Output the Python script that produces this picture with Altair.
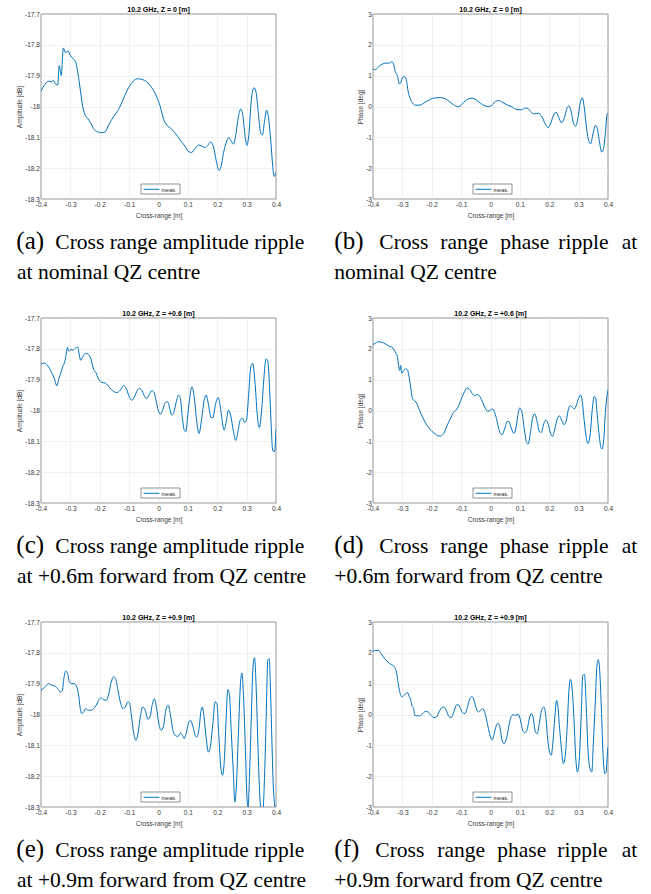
import altair as alt
import pandas as pd

# ---------------- data ----------------
xa = [-0.400, -0.374, -0.365, -0.358, -0.350, -0.343, -0.338, -0.331, -0.324, -0.317, -0.308, -0.300,
      -0.291, -0.283, -0.274, -0.266, -0.258, -0.251, -0.241, -0.230, -0.218, -0.204, -0.193, -0.181,
      -0.170, -0.153, -0.136, -0.119, -0.102, -0.085, -0.071, -0.057, -0.040, -0.023, -0.006, 0.006,
      0.017, 0.028, 0.042, 0.057, 0.074, 0.091, 0.102, 0.113, 0.125, 0.138, 0.151, 0.159, 0.167, 0.178,
      0.187, 0.196, 0.206, 0.213, 0.221, 0.230, 0.239, 0.247, 0.255, 0.264, 0.272, 0.280, 0.287, 0.295,
      0.301, 0.308, 0.316, 0.325, 0.332, 0.340, 0.348, 0.354, 0.360, 0.368, 0.374, 0.382, 0.389, 0.393, 0.400]
ya = [-17.950, -17.918, -17.920, -17.915, -17.928, -17.930, -17.867, -17.900, -17.810, -17.825, -17.820, -17.834,
      -17.845, -17.853, -17.894, -17.947, -18.000, -18.025, -18.039, -18.055, -18.076, -18.083, -18.085, -18.082,
      -18.060, -18.033, -18.010, -17.974, -17.939, -17.917, -17.910, -17.912, -17.920, -17.939, -17.969, -18.000,
      -18.040, -18.060, -18.071, -18.087, -18.109, -18.130, -18.146, -18.149, -18.135, -18.125, -18.130, -18.133, -18.127, -18.115,
      -18.130, -18.173, -18.207, -18.195, -18.152, -18.119, -18.101, -18.111, -18.122, -18.087, -18.033, -18.008, -18.030, -18.097,
      -18.126, -18.087, -17.979, -17.939, -17.953, -18.023, -18.087, -18.092, -18.055, -18.012, -18.033, -18.109, -18.195, -18.227, -18.214]

xb = [-0.400, -0.392, -0.381, -0.367, -0.356, -0.347, -0.335, -0.330, -0.324, -0.317, -0.310, -0.305, -0.299,
      -0.292, -0.286, -0.281, -0.273, -0.265, -0.254, -0.239, -0.222, -0.205, -0.188, -0.171, -0.154, -0.137,
      -0.125, -0.112, -0.103, -0.091, -0.077, -0.063, -0.049, -0.035, -0.019, -0.006, 0.005, 0.017, 0.028,
      0.042, 0.057, 0.074, 0.090, 0.105, 0.119, 0.127, 0.136, 0.147, 0.164, 0.176, 0.187, 0.196, 0.205, 0.214,
      0.223, 0.232, 0.242, 0.252, 0.261, 0.267, 0.275, 0.283, 0.290, 0.298, 0.306, 0.313, 0.319, 0.328, 0.334,
      0.341, 0.349, 0.357, 0.364, 0.371, 0.379, 0.384, 0.391, 0.397, 0.400]
yb = [1.22, 1.19, 1.29, 1.38, 1.41, 1.40, 1.45, 1.38, 1.13, 1.00, 0.73, 0.79, 0.95,
      0.97, 0.84, 0.52, 0.25, 0.11, 0.04, 0.05, 0.14, 0.23, 0.28, 0.29, 0.25, 0.14,
      0.05, 0.00, 0.02, 0.14, 0.24, 0.27, 0.22, 0.11, 0.02, 0.00, 0.04, 0.17, 0.19,
      0.13, 0.05, -0.02, -0.10, -0.11, -0.05, -0.06, -0.16, -0.24, -0.22, -0.35, -0.58, -0.69, -0.54, -0.29,
      -0.18, -0.35, -0.53, -0.35, -0.04, 0.02, -0.18, -0.56, -0.64, -0.35, 0.14, 0.28, -0.02, -0.78, -1.10,
      -1.21, -0.88, -0.61, -0.72, -1.15, -1.48, -1.40, -0.88, -0.24, -0.22]

xc = [-0.400, -0.389, -0.377, -0.366, -0.355, -0.346, -0.339, -0.332, -0.325, -0.321, -0.316, -0.310, -0.305,
      -0.298, -0.291, -0.283, -0.275, -0.270, -0.265, -0.258, -0.249, -0.240, -0.230, -0.221, -0.213, -0.204,
      -0.193, -0.181, -0.167, -0.153, -0.142, -0.130, -0.119, -0.110, -0.101, -0.091, -0.082, -0.074, -0.065,
      -0.056, -0.045, -0.039, -0.032, -0.023, -0.015, -0.008, -0.001, 0.006, 0.014, 0.023, 0.031, 0.039, 0.045,
      0.052, 0.060, 0.068, 0.074, 0.080, 0.087, 0.093, 0.100, 0.108, 0.114, 0.121, 0.130, 0.138, 0.146, 0.155,
      0.162, 0.170, 0.179, 0.185, 0.194, 0.203, 0.210, 0.217, 0.223, 0.230, 0.238, 0.246, 0.255, 0.263, 0.271,
      0.278, 0.286, 0.293, 0.300, 0.307, 0.314, 0.321, 0.329, 0.337, 0.343, 0.351, 0.359, 0.366, 0.372, 0.378,
      0.383, 0.389, 0.395, 0.400]
yc = [-17.850, -17.846, -17.855, -17.873, -17.895, -17.920, -17.895, -17.877, -17.855, -17.847, -17.828, -17.795, -17.808,
      -17.802, -17.804, -17.798, -17.794, -17.817, -17.837, -17.826, -17.815, -17.817, -17.833, -17.866, -17.877, -17.898,
      -17.909, -17.911, -17.925, -17.938, -17.942, -17.934, -17.919, -17.928, -17.952, -17.967, -17.956, -17.938, -17.928,
      -17.936, -17.958, -17.960, -17.949, -17.936, -17.942, -17.969, -17.999, -18.012, -17.999, -17.974, -17.972, -17.996, -18.015,
      -18.007, -17.974, -17.950, -17.958, -18.012, -18.061, -18.069, -18.012, -17.947, -17.923, -17.952, -18.034, -18.075, -18.034, -17.969,
      -17.950, -17.980, -18.023, -18.023, -17.980, -17.958, -17.985, -18.034, -18.064, -18.040, -17.999, -18.017, -18.068, -18.097, -18.066,
      -18.032, -18.025, -18.039, -18.028, -17.947, -17.860, -17.847, -17.915, -18.023, -18.055, -18.001, -17.893, -17.833, -17.839, -17.925,
      -18.034, -18.131, -18.133, -18.061]

xd = [-0.400, -0.392, -0.383, -0.372, -0.358, -0.344, -0.335, -0.329, -0.322, -0.317, -0.313, -0.309, -0.306,
      -0.302, -0.297, -0.290, -0.283, -0.276, -0.271, -0.265, -0.258, -0.250, -0.241, -0.231, -0.222, -0.211,
      -0.199, -0.188, -0.179, -0.171, -0.163, -0.156, -0.148, -0.137, -0.126, -0.114, -0.106, -0.097, -0.088,
      -0.080, -0.072, -0.063, -0.054, -0.045, -0.035, -0.027, -0.018, -0.009, -0.001, 0.007, 0.014, 0.022,
      0.030, 0.039, 0.048, 0.057, 0.063, 0.070, 0.079, 0.086, 0.093, 0.099, 0.106, 0.115, 0.123, 0.128, 0.136,
      0.144, 0.151, 0.159, 0.166, 0.173, 0.181, 0.189, 0.197, 0.205, 0.211, 0.219, 0.227, 0.234, 0.242, 0.250,
      0.258, 0.264, 0.272, 0.279, 0.286, 0.293, 0.300, 0.307, 0.312, 0.319, 0.326, 0.332, 0.340, 0.346, 0.353,
      0.358, 0.363, 0.369, 0.376, 0.380, 0.386, 0.391, 0.400]
yd = [2.14, 2.18, 2.23, 2.22, 2.16, 2.08, 2.06, 1.97, 1.86, 1.75, 1.46, 1.30, 1.46,
      1.21, 1.27, 1.35, 1.32, 1.02, 0.70, 0.37, 0.32, 0.21, -0.01, -0.22, -0.39, -0.55,
      -0.68, -0.76, -0.82, -0.83, -0.79, -0.68, -0.49, -0.28, -0.06, 0.05, 0.21, 0.43, 0.62,
      0.73, 0.70, 0.56, 0.48, 0.52, 0.43, 0.27, 0.08, -0.03, 0.01, 0.05, -0.06, -0.33,
      -0.66, -0.79, -0.60, -0.35, -0.36, -0.55, -0.74, -0.60, -0.17, 0.08, -0.01, -0.60, -1.04, -1.09, -0.71,
      -0.22, -0.11, -0.38, -0.68, -0.71, -0.44, -0.31, -0.46, -0.76, -0.84, -0.60, -0.28, -0.17, -0.31, -0.46,
      -0.33, -0.01, 0.16, 0.10, 0.05, 0.19, 0.40, 0.50, 0.32, -0.33, -0.87, -1.07, -0.71, -0.01, 0.45,
      0.41, -0.11, -0.71, -1.20, -1.25, -0.87, -0.06, 0.67]

xe = [-0.400, -0.389, -0.374, -0.363, -0.351, -0.343, -0.334, -0.327, -0.323, -0.316, -0.309, -0.303, -0.295,
      -0.287, -0.278, -0.271, -0.267, -0.261, -0.255, -0.247, -0.239, -0.230, -0.221, -0.212, -0.204, -0.196,
      -0.187, -0.178, -0.169, -0.161, -0.153, -0.146, -0.139, -0.130, -0.121, -0.113, -0.105, -0.099, -0.093,
      -0.085, -0.077, -0.070, -0.062, -0.054, -0.045, -0.036, -0.029, -0.021, -0.014, -0.007, 0.001, 0.009,
      0.017, 0.025, 0.033, 0.040, 0.048, 0.057, 0.066, 0.075, 0.082, 0.087, 0.094, 0.102, 0.109, 0.117, 0.125,
      0.130, 0.138, 0.145, 0.149, 0.155, 0.162, 0.170, 0.178, 0.185, 0.193, 0.199, 0.205, 0.212, 0.218, 0.224,
      0.230, 0.236, 0.241, 0.248, 0.255, 0.260, 0.265, 0.272, 0.279, 0.284, 0.290, 0.296, 0.301, 0.305, 0.310,
      0.316, 0.321, 0.327, 0.332, 0.338, 0.344, 0.350, 0.356, 0.362, 0.368, 0.372, 0.377, 0.381, 0.386, 0.390,
      0.395, 0.400]
ye = [-17.922, -17.913, -17.900, -17.905, -17.909, -17.916, -17.927, -17.922, -17.889, -17.859, -17.868, -17.895, -17.900,
      -17.900, -17.911, -17.943, -17.976, -17.997, -17.992, -17.981, -17.986, -17.986, -17.981, -17.970, -17.954, -17.946,
      -17.952, -17.954, -17.932, -17.895, -17.878, -17.884, -17.916, -17.959, -17.981, -17.976, -17.959, -17.962, -17.997,
      -18.057, -18.084, -18.062, -18.008, -17.976, -17.986, -18.016, -18.008, -17.967, -17.949, -17.976, -18.030, -18.051,
      -18.038, -17.986, -17.970, -17.997, -18.046, -18.068, -18.071, -18.060, -18.068, -18.078, -18.062, -18.028, -18.019, -18.038, -18.068,
      -18.073, -18.046, -17.986, -17.976, -18.008, -18.073, -18.122, -18.095, -18.030, -17.959, -17.965, -18.062, -18.170, -18.197, -18.149,
      -18.019, -17.919, -17.932, -18.062, -18.192, -18.284, -18.235, -18.062, -17.900, -17.865, -17.954, -18.116, -18.268, -18.300, -18.192,
      -18.008, -17.857, -17.816, -17.900, -18.084, -18.246, -18.320, -18.305, -18.170, -17.954, -17.824, -17.819, -17.911, -18.084, -18.214,
      -18.289, -18.310]

xf = [-0.400, -0.383, -0.372, -0.360, -0.349, -0.340, -0.332, -0.324, -0.319, -0.314, -0.310, -0.305, -0.301,
      -0.295, -0.288, -0.282, -0.277, -0.271, -0.267, -0.262, -0.258, -0.251, -0.242, -0.233, -0.221, -0.212,
      -0.202, -0.193, -0.184, -0.175, -0.166, -0.159, -0.151, -0.142, -0.134, -0.125, -0.117, -0.110, -0.102,
      -0.095, -0.087, -0.080, -0.072, -0.064, -0.058, -0.050, -0.041, -0.034, -0.027, -0.021, -0.014, -0.007,
      0.000, 0.006, 0.011, 0.018, 0.025, 0.032, 0.038, 0.046, 0.053, 0.061, 0.069, 0.077, 0.086, 0.094, 0.101,
      0.108, 0.116, 0.124, 0.132, 0.139, 0.146, 0.153, 0.159, 0.166, 0.174, 0.182, 0.188, 0.194, 0.201, 0.207,
      0.212, 0.219, 0.225, 0.229, 0.235, 0.242, 0.248, 0.254, 0.261, 0.267, 0.272, 0.278, 0.285, 0.290, 0.296,
      0.302, 0.309, 0.314, 0.320, 0.326, 0.332, 0.339, 0.345, 0.350, 0.357, 0.362, 0.367, 0.372, 0.378, 0.383,
      0.389, 0.394, 0.397, 0.400]
yf = [2.06, 2.08, 1.97, 1.81, 1.70, 1.63, 1.59, 1.49, 1.32, 1.00, 0.78, 0.62, 0.57,
      0.62, 0.68, 0.71, 0.59, 0.46, 0.27, 0.22, -0.03, -0.04, -0.05, 0.01, 0.10, 0.08,
      -0.03, -0.10, -0.08, 0.08, 0.22, 0.24, 0.14, -0.06, -0.10, 0.08, 0.30, 0.32, 0.19,
      0.05, 0.03, 0.19, 0.46, 0.59, 0.51, 0.24, 0.08, 0.14, 0.19, 0.11, -0.14, -0.46,
      -0.73, -0.82, -0.68, -0.41, -0.28, -0.41, -0.78, -0.95, -0.82, -0.46, -0.10, -0.01, -0.03, 0.01, -0.14,
      -0.46, -0.59, -0.51, -0.14, 0.03, -0.14, -0.57, -0.62, -0.30, 0.14, 0.24, -0.03, -0.73, -1.22, -1.32,
      -0.95, -0.08, 0.46, 0.30, -0.41, -1.16, -1.59, -1.38, -0.41, 0.78, 1.14, 0.84, -0.30, -1.38, -1.86,
      -1.49, 0.03, 1.27, 1.30, 0.24, -1.16, -1.76, -1.86, -0.95, 0.46, 1.54, 1.78, 1.38, 0.03, -1.27,
      -1.92, -1.86, -1.38, -1.05]

x_ticks = [-0.4, -0.3, -0.2, -0.1, 0, 0.1, 0.2, 0.3, 0.4]
amp_ticks = [-18.3, -18.2, -18.1, -18.0, -17.9, -17.8, -17.7]
phase_ticks = [-3, -2, -1, 0, 1, 2, 3]
series_name = "meas."

titles = ["10.2 GHz, Z = 0 [m]", "10.2 GHz, Z = 0 [m]",
          "10.2 GHz, Z = +0.6 [m]", "10.2 GHz, Z = +0.6 [m]",
          "10.2 GHz, Z = +0.9 [m]", "10.2 GHz, Z = +0.9 [m]"]

# ---------------- styling / layout ----------------
W, H = 235, 185
LINE_COLOR = "#0072BD"
SANS = "Liberation Sans"
SERIF = "Liberation Serif"
one = pd.DataFrame({"k": [0]})


def text_layer(txt, x, y, size, align="left", font=SERIF, weight="normal"):
    return alt.Chart(one).mark_text(
        text=txt, font=font, fontSize=size, fontWeight=weight, align=align,
        baseline="alphabetic", color="#000000"
    ).encode(x=alt.value(x), y=alt.value(y))


def caption_left(label, line1, line2):
    y1, y2 = H + 50, H + 79.5
    return [
        text_layer(label, -24.7, y1, 25),
        text_layer(line1, 14.3, y1, 21.5),
        text_layer(line2, -24.0, y2, 21.5),
    ]


def caption_right(words, line2):
    y1, y2 = H + 50, H + 79.5
    layers = [text_layer(words[0][0], words[0][1], y1, 25)]
    for w, xx in words[1:-1]:
        layers.append(text_layer(w, xx, y1, 21.5))
    layers.append(text_layer(words[-1][0], words[-1][1], y1, 21.5, align="right"))
    layers.append(text_layer(line2, -38.7, y2, 21.5))
    return layers


def panel(xs, ys, title, kind, caption_layers, anchor=False):
    df = pd.DataFrame({"x": xs, "y": ys, "series": series_name})
    if kind == "amp":
        ydom, yt, ytitle = [-18.3, -17.7], amp_ticks, "Amplitude [dB]"
    else:
        ydom, yt, ytitle = [-3, 3], phase_ticks, "Phase [deg]"
    line = alt.Chart(df).mark_line(
        color=LINE_COLOR, strokeWidth=1, clip=True, interpolate="monotone"
    ).encode(
        x=alt.X("x:Q", scale=alt.Scale(domain=[-0.4, 0.4], nice=False, zero=False),
                axis=alt.Axis(values=x_ticks, title="Cross-range [m]", labelExpr="'' + datum.value")),
        y=alt.Y("y:Q", scale=alt.Scale(domain=ydom, nice=False, zero=False),
                axis=alt.Axis(values=yt, title=ytitle, labelExpr="'' + datum.value")),
    )
    leg_box = alt.Chart(one).mark_rect(fill="white", stroke="#262626", strokeWidth=0.5).encode(
        x=alt.value(100), x2=alt.value(139), y=alt.value(170), y2=alt.value(180))
    leg_line = alt.Chart(one).mark_rule(color=LINE_COLOR, strokeWidth=1).encode(
        x=alt.value(102.5), x2=alt.value(118.5), y=alt.value(175.3))
    leg_text = alt.Chart(one).mark_text(
        text=series_name, font=SANS, fontSize=5.5, align="left", baseline="middle", color="#262626"
    ).encode(x=alt.value(120.5), y=alt.value(175.5))
    head = text_layer(title, W / 2, -2.4, 7, align="center", font=SANS, weight="bold")
    layers = [line, leg_box, leg_line, leg_text, head] + caption_layers
    if anchor:
        layers.append(alt.Chart(one).mark_rect(opacity=0).encode(
            x=alt.value(-40.7), x2=alt.value(-40.2), y=alt.value(-13.3), y2=alt.value(-12.8)))
    return alt.layer(*layers).properties(width=W, height=H)


right_b = [("(b)", -38.7), ("Cross", 6.3), ("range", 67.3), ("phase", 127.3), ("ripple", 185.3), ("at", 264.3)]
right_d = [("(d)", -38.7), ("Cross", 6.3), ("range", 67.3), ("phase", 126.8), ("ripple", 185.3), ("at", 264.3)]
right_f = [("(f)", -38.7), ("Cross", 2.3), ("range", 64.3), ("phase", 124.3), ("ripple", 184.3), ("at", 264.3)]

pa = panel(xa, ya, titles[0], "amp",
           caption_left("(a)", "Cross range amplitude ripple", "at nominal QZ centre"), anchor=True)
pb = panel(xb, yb, titles[1], "phase", caption_right(right_b, "nominal QZ centre"))
pc = panel(xc, yc, titles[2], "amp",
           caption_left("(c)", "Cross range amplitude ripple", "at +0.6m forward from QZ centre"))
pd_ = panel(xd, yd, titles[3], "phase", caption_right(right_d, "+0.6m forward from QZ centre"))
pe = panel(xe, ye, titles[4], "amp",
           caption_left("(e)", "Cross range amplitude ripple", "at +0.9m forward from QZ centre"))
pf = panel(xf, yf, titles[5], "phase", caption_right(right_f, "+0.9m forward from QZ centre"))

chart = alt.concat(
    pa, pb, pc, pd_, pe, pf, columns=2,
    spacing=alt.RowColnumber(row=119, column=97), bounds="flush",
).properties(
    padding=0, background="white"
).configure_view(
    stroke="#262626", strokeWidth=0.6
).configure_axis(
    grid=True, gridColor="#e3e3e3", gridWidth=0.5, domain=False, ticks=False, labelFlush=False,
    labelFont=SANS, labelFontSize=6.6, labelColor="#3a3a3a",
    titleFont=SANS, titleFontSize=6.5, titleFontWeight="normal", titleColor="#3a3a3a",
).configure_axisX(
    labelPadding=2.5, titlePadding=4.5,
).configure_axisY(
    labelPadding=1.5, titlePadding=1.8,
)

chart.save("out.html", embed_options={"renderer": "svg", "actions": False})
